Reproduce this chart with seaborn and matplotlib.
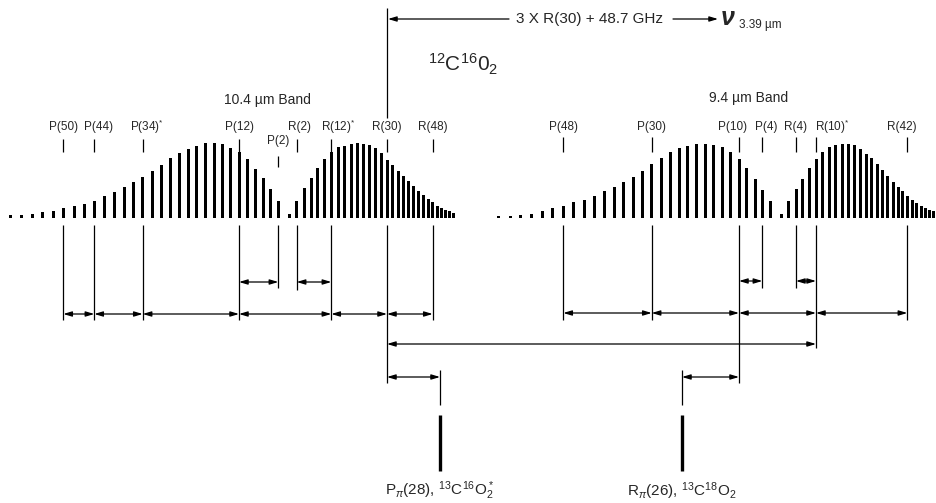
import numpy as np
import pandas as pd
import matplotlib
matplotlib.use("Agg")
import matplotlib.pyplot as plt
import seaborn as sns

# -------------------------------
# Data: laser lines (position along frequency axis, relative gain)
# -------------------------------

j_p = list(range(60, 0, -2))      # P(60) ... P(2)
j_r10 = list(range(0, 60, 2))     # R(0) ... R(58)
j_r9 = list(range(0, 56, 2))      # R(0) ... R(54)

band10_p_x = [10, 21, 32, 42.7, 53.3, 63.3, 74, 84, 94.3, 104.3, 114.3, 124, 133.3, 142.7, 152.5,
              161.7, 170.7, 179.3, 188.3, 196.7, 205.7, 214, 222.7, 230.7, 239, 247.3, 255.3, 263.3, 270.7, 278.3]
band10_p_h = [3, 3, 4.3, 5.7, 7, 9.7, 12.3, 14, 17.3, 21.7, 26.3, 30.7, 35.7, 40.7, 47.3,
              53, 59.7, 64.7, 69, 72.3, 74.7, 74.7, 73.7, 69.7, 65.7, 59, 49, 39.7, 29, 17.3]
band10_r_x = [289.3, 296.7, 304, 311, 317.7, 324.7, 331.3, 338.3, 344.3, 351, 357.3, 363.7, 369.7, 375.7, 381.3,
              387, 392.7, 398, 403.3, 408.3, 413.3, 418.7, 423.7, 428.3, 432.7, 437, 441.3, 445.3, 449.3, 453.3]
band10_r_h = [4, 17.3, 29.7, 39.7, 49.7, 59, 65.7, 70.7, 72.3, 74, 74.7, 74, 73, 69.7, 65,
              58, 53, 47.5, 42, 37, 31.7, 27, 23, 19, 15.7, 12.3, 9.7, 8, 6.7, 5]

band9_p_x = [498.3, 510, 520.7, 531.3, 542.3, 552.7, 563.3, 573.7, 584, 594.3, 604.3, 614, 623.7, 633.3, 642.7,
             651.7, 661, 670, 679, 687.7, 696.7, 705.3, 713.7, 722.3, 730.7, 739, 746.7, 755, 762.3, 770]
band9_p_h = [2.5, 2.5, 3, 4.3, 7.3, 10, 12.3, 15.7, 17.7, 22.3, 26.7, 30.7, 35.7, 40.7, 46.7,
             54, 60, 65.7, 70, 72.3, 74, 74, 73.3, 71, 65.7, 59, 50, 39, 28.3, 17.3]
band9_r_x = [781.7, 788.7, 796, 802.7, 809.3, 816, 822.7, 829.3, 835.7, 842, 848.3, 854.3, 860.3, 866.3,
             871.7, 877, 882.3, 887.7, 893, 898, 902.7, 907.3, 912, 916.7, 921, 925.3, 929.3, 933.3]
band9_r_h = [4, 17.3, 29, 39, 50, 59, 65.7, 70.7, 73.3, 74, 74, 73, 69, 64.3,
             60, 54.3, 47.7, 41.7, 35.7, 31, 26.7, 22.3, 18.3, 15, 12.3, 10, 8.3, 7.3]

# labelled lines
band10_labels = ["P50", "P44", "P34*", "P12", "P2", "R2", "R12*", "R30", "R48"]
band9_labels = ["P48", "P30", "P10", "P4", "R4", "R10*", "R42"]

# spacings drawn as double arrows
band10_spans = [("P50", "P44"), ("P44", "P34"), ("P34", "P12"), ("P12", "R12"), ("R12", "R30"), ("R30", "R48")]
band10_short = [("P12", "P2"), ("R2", "R12")]
band9_spans = [("P48", "P30"), ("P30", "P10"), ("P10", "R10"), ("R10", "R42")]
band9_short = [("P10", "P4"), ("R4", "R10")]

# pi lines of the isotopes
pi_x = [440, 682]
pi_labels = [r"P$_\pi$(28), $^{13}$C$^{16}$O$_2^*$", r"R$_\pi$(26), $^{13}$C$^{18}$O$_2$"]

# -------------------------------
# Tables
# -------------------------------

spec = pd.DataFrame({
    "x": band10_p_x + band10_r_x + band9_p_x + band9_r_x,
    "gain": band10_p_h + band10_r_h + band9_p_h + band9_r_h,
})

pos10 = {f"P{j}": x for j, x in zip(j_p, band10_p_x)}
pos10.update({f"R{j}": x for j, x in zip(j_r10, band10_r_x)})
pos9 = {f"P{j}": x for j, x in zip(j_p, band9_p_x)}
pos9.update({f"R{j}": x for j, x in zip(j_r9, band9_r_x)})

# -------------------------------
# Figure
# -------------------------------

sns.set_theme(style="white")
plt.rcParams["font.family"] = ["Liberation Sans", "DejaVu Sans"]
plt.rcParams["mathtext.fontset"] = "custom"
plt.rcParams["mathtext.rm"] = "Liberation Sans"
plt.rcParams["mathtext.it"] = "Liberation Sans:italic"
plt.rcParams["mathtext.bf"] = "Liberation Sans:bold"

W, H = 936, 503
fig = plt.figure(figsize=(W / 100, H / 100), dpi=100)
ax = fig.add_axes([0, 0, 1, 1])
ax.set_xlim(0, W)
ax.set_ylim(H, 0)
ax.axis("off")

base = 218
ax_b = fig.add_axes([0, (H - base) / H, 1, 76 / H])
sns.barplot(data=spec, x="x", y="gain", native_scale=True, width=0.75, color="black",
            saturation=1, errorbar=None, linewidth=0, ax=ax_b)
ax_b.set_xlim(0, W)
ax_b.set_ylim(0, 76)
ax_b.axis("off")

k = "black"
arr = dict(arrowstyle="<|-|>,head_length=0.5,head_width=0.15", mutation_scale=10,
           lw=0.9, color=k, shrinkA=0, shrinkB=0)
one = dict(arrowstyle="-|>,head_length=0.5,head_width=0.15", mutation_scale=10,
           lw=0.9, color=k, shrinkA=0, shrinkB=0)


def darrow(x1, x2, y):
    ax.annotate("", xy=(x2, y), xytext=(x1, y), arrowprops=arr)


def label_text(name):
    star = name.endswith("*")
    core = name.rstrip("*")
    s = f"{core[0]}({core[1:]})"
    return s + (r"$^{*}$" if star else "")


# label offsets for crowded names
shift = {"P44": 4, "P34*": 4, "R2": 3, "R12*": 7,
         "P10": -6, "P4": 4, "R10*": 16, "R42": -5}
low_end10 = {"P2": 288, "R2": 290, "R30": 383}
low_end9 = {"P10": 383, "P4": 288, "R4": 288, "R10": 348}
lab_fs = 8.5

for labels, pos, low_end, ytick in [(band10_labels, pos10, low_end10, 139),
                                    (band9_labels, pos9, low_end9, 137)]:
    for name in labels:
        key = name.rstrip("*")
        x = pos[key]
        if key == "P2" and pos is pos10:
            ax.vlines(x, 156, 167, color=k, lw=0.9)
            ax.text(x, 141, label_text(name), ha="center", va="center", fontsize=lab_fs)
        else:
            ax.vlines(x, ytick, 152, color=k, lw=0.9)
            ax.text(x + shift.get(name, 0), 127, label_text(name), ha="center", va="center", fontsize=lab_fs)
        ax.vlines(x, 225, low_end.get(key, 320), color=k, lw=0.9)

for a, b in band10_spans:
    darrow(pos10[a], pos10[b], 314)
for a, b in band10_short:
    darrow(pos10[a], pos10[b], 282)
for a, b in band9_spans:
    darrow(pos9[a], pos9[b], 313)
for a, b in band9_short:
    darrow(pos9[a], pos9[b], 281)

# R(30) reference line and long span
r30 = pos10["R30"]
ax.vlines(r30, 8, 118, color=k, lw=0.9)
darrow(r30, pos9["R10"], 344)
darrow(r30, pi_x[0], 377)
darrow(pi_x[1], pos9["P10"], 377)

for x, lab in zip(pi_x, pi_labels):
    ax.vlines(x, 370, 405, color=k, lw=0.9)
    ax.vlines(x, 415, 471, color=k, lw=2.4)
    ax.text(x, 491, lab, ha="center", va="center", fontsize=11)

# top annotation
ax.annotate("", xy=(r30 + 1, 19), xytext=(509, 19), arrowprops=one)
ax.text(590, 19, "3 X R(30) + 48.7 GHz", ha="center", va="center", fontsize=11)
ax.annotate("", xy=(718, 19), xytext=(673, 19), arrowprops=one)
ax.text(721, 18, "ν", ha="left", va="center", fontsize=18, fontweight="bold", style="italic")
ax.text(739, 25, "3.39 µm", ha="left", va="center", fontsize=8.5)

ax.text(428, 64, r"$^{12}$C$^{16}$0$_2$", ha="left", va="center", fontsize=15)
ax.text(267, 100, "10.4 µm Band", ha="center", va="center", fontsize=10)
ax.text(749, 98, "9.4 µm Band", ha="center", va="center", fontsize=10)

fig.savefig("out.png", dpi=100, facecolor="white")
